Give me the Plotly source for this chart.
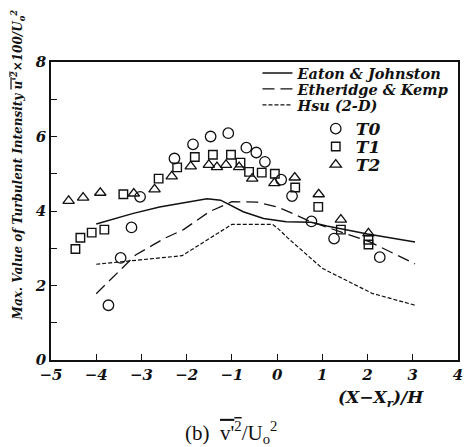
import plotly.graph_objects as go

# ---- measured data: max turbulent intensity vs (X - Xr)/H ----
t0_x = [-3.73, -3.46, -3.22, -3.03, -2.27, -1.86, -1.47, -1.08, -0.68, -0.46, -0.27, 0.09, 0.33, 0.76, 1.26, 2.27]
t0_y = [1.47, 2.74, 3.56, 4.38, 5.41, 5.79, 6.00, 6.09, 5.70, 5.57, 5.32, 4.84, 4.40, 3.72, 3.26, 2.76]

t1_x = [-4.46, -4.35, -4.10, -3.82, -3.40, -2.62, -2.21, -1.82, -1.42, -1.02, -0.81, -0.62, -0.34, -0.05, 0.40, 0.91, 1.41, 2.02, 2.02]
t1_y = [2.98, 3.28, 3.42, 3.50, 4.45, 4.87, 5.17, 5.45, 5.51, 5.51, 5.30, 5.05, 5.03, 5.00, 4.63, 4.11, 3.50, 3.23, 3.10]

t2_x = [-4.61, -4.29, -3.91, -3.17, -2.71, -2.33, -1.91, -1.51, -1.33, -1.13, -0.84, -0.55, -0.06, 0.39, 0.92, 1.41, 2.02]
t2_y = [4.27, 4.36, 4.49, 4.47, 4.58, 4.93, 5.20, 5.24, 5.18, 5.24, 5.18, 4.87, 4.75, 4.90, 4.45, 3.77, 3.40]

# ---- reference curves ----
eaton_x = [-4.0, -3.2, -2.6, -2.2, -1.55, -1.25, -0.75, -0.3, 0.2, 0.75, 1.1, 2.0, 3.05]
eaton_y = [3.65, 3.93, 4.11, 4.20, 4.33, 4.29, 3.98, 3.80, 3.71, 3.70, 3.60, 3.38, 3.17]

etheridge_x = [-4.0, -3.13, -2.5, -2.07, -1.5, -1.0, -0.45, 0.0, 0.35, 0.75, 1.5, 2.05, 3.05]
etheridge_y = [1.78, 2.82, 3.26, 3.50, 3.98, 4.25, 4.24, 4.11, 3.93, 3.71, 3.40, 3.17, 2.58]

hsu_x = [-4.0, -3.3, -2.1, -1.5, -1.0, -0.1, 0.0, 0.25, 1.0, 2.1, 3.05]
hsu_y = [2.57, 2.65, 2.80, 3.26, 3.64, 3.64, 3.55, 3.26, 2.46, 1.79, 1.47]

x_ticks = [-5, -4, -3, -2, -1, 0, 1, 2, 3, 4]
y_ticks = [0, 2, 4, 6, 8]

HEAVY = "DejaVu Serif"
SERIF = "Liberation Serif"
BLACK = "#111111"

# plot area in pixels (used to place legends / annotations in paper units)
L, R, T, B, W, H = 51, 12, 62, 87, 475, 447
PW, PH = W - L - R, H - T - B


def px_x(px):
    return (px - L) / PW


def px_y(py):
    return (H - B - py) / PH


def bi(size, family=HEAVY):
    return dict(family=family, size=size, color=BLACK, weight="bold", style="italic")


fig = go.Figure()

fig.add_trace(go.Scatter(x=eaton_x, y=eaton_y, mode="lines", name="Eaton & Johnston",
                         line=dict(color=BLACK, width=1.5), legend="legend"))
fig.add_trace(go.Scatter(x=etheridge_x, y=etheridge_y, mode="lines", name="Etheridge & Kemp",
                         line=dict(color=BLACK, width=1.3, dash="12px,6px"), legend="legend2"))
fig.add_trace(go.Scatter(x=hsu_x, y=hsu_y, mode="lines", name="Hsu (2-D)",
                         line=dict(color=BLACK, width=1.2, dash="4px,2px"), legend="legend3"))

fig.add_trace(go.Scatter(x=t0_x, y=t0_y, mode="markers", name="T0", legend="legend4",
                         marker=dict(symbol="circle-open", size=10.5, color=BLACK, line=dict(width=1.3))))
fig.add_trace(go.Scatter(x=t1_x, y=t1_y, mode="markers", name="T1", legend="legend5",
                         marker=dict(symbol="square-open", size=8.5, color=BLACK, line=dict(width=1.4))))
fig.add_trace(go.Scatter(x=t2_x, y=t2_y, mode="markers", name="T2", legend="legend6",
                         marker=dict(symbol="triangle-up-open", size=10, color=BLACK, line=dict(width=1.3))))

# one legend per entry so the rows can sit as close as in a printed key
line_rows = [73, 89, 105]
sym_rows = [129, 147, 165]
legends = {}
for i, py in enumerate(line_rows + sym_rows):
    is_line = i < 3
    key = "legend" if i == 0 else f"legend{i + 1}"
    legends[key] = dict(
        x=px_x(260 if is_line else 319), y=px_y(py),
        xanchor="left", yanchor="middle", bgcolor="rgba(0,0,0,0)",
        borderwidth=0, font=bi(14.5 if is_line else 17),
        itemclick=False, itemdoubleclick=False)

tick_font = bi(15)

fig.update_layout(
    width=W, height=H,
    margin=dict(l=L, r=R, t=T, b=B),
    paper_bgcolor="white", plot_bgcolor="white",
    showlegend=True,
    xaxis=dict(range=[-5, 4], tickmode="array", tickvals=x_ticks,
               ticks="inside", ticklen=6, tickwidth=1.2, tickcolor=BLACK,
               showline=True, linecolor=BLACK, linewidth=1.5, mirror=True,
               showgrid=False, zeroline=False, tickfont=tick_font),
    yaxis=dict(range=[0, 8], tickmode="array", tickvals=y_ticks,
               ticks="inside", ticklen=6, tickwidth=1.2, tickcolor=BLACK,
               minor=dict(dtick=1, ticks="inside", ticklen=6, tickwidth=1.2, tickcolor=BLACK),
               showline=True, linecolor=BLACK, linewidth=1.5, mirror=True,
               showgrid=False, zeroline=False, tickfont=tick_font),
    **legends,
)

# axis titles and caption
fig.add_annotation(
    text="Max. Value of Turbulent Intensity "
         "<span style='text-decoration:overline'>u'<sup>2</sup></span>×100/U<sub>o</sub><sup>2</sup>",
    xref="paper", yref="paper", x=px_x(18), y=px_y(165),
    textangle=-90, showarrow=False, xanchor="center", yanchor="middle",
    font=bi(12))

fig.add_annotation(
    text="(X−X<sub>r</sub>)/H",
    xref="paper", yref="paper", x=px_x(385), y=px_y(398),
    showarrow=False, xanchor="center", yanchor="middle",
    font=bi(17))

fig.add_annotation(
    text="(b)  <span style='text-decoration:overline'>v'<sup>2</sup></span>/U<sub>o</sub><sup>2</sup>",
    xref="paper", yref="paper", x=px_x(233), y=px_y(432),
    showarrow=False, xanchor="center", yanchor="middle",
    font=dict(family=SERIF, size=21, color=BLACK))

fig.write_html("out.html")
